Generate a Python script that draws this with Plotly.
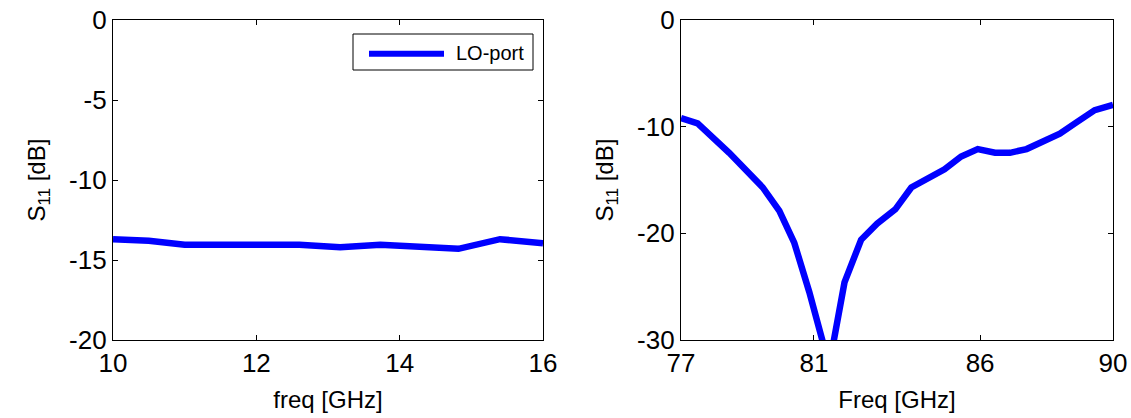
import plotly.graph_objects as go

# Left panel: LO-port S11
lo_freq = [10, 10.5, 11.0, 12.6, 13.17, 13.73, 14.82, 15.4, 16.0]
lo_s11 = [-13.7, -13.8, -14.05, -14.05, -14.2, -14.05, -14.3, -13.7, -13.95]

# Right panel: S11 around 77-90 GHz
rf_freq = [77, 77.5, 78.45, 79.46, 79.96, 80.41, 80.86, 81.46, 81.92, 82.42, 82.9,
           83.45, 83.93, 84.93, 85.43, 85.93, 86.45, 86.9, 87.4, 87.9, 88.4, 88.9, 89.45, 90]
rf_s11 = [-9.2, -9.7, -12.45, -15.7, -17.9, -20.9, -25.5, -32.4, -24.6, -20.6, -19.1,
          -17.75, -15.7, -14.0, -12.8, -12.1, -12.45, -12.45, -12.1, -11.45, -10.65, -9.6, -8.45, -7.95]

left_xticks = [10, 12, 14, 16]
left_yticks = [0, -5, -10, -15, -20]
right_xticks = [77, 81, 86, 90]
right_yticks = [0, -10, -20, -30]
legend_label = "LO-port"

W, H = 1131, 418
L, T = 113, 20
R = W - 1113
B = H - 340
PW, PH = W - L - R, H - T - B


def px(xp):
    return (xp - L) / PW


def py(yp):
    return (H - B - yp) / PH


def labels(vals):
    # plain hyphen-minus, as in the reference
    return [str(v) for v in vals]


blue = "#0000FF"
fam = "Liberation Sans, Arial, sans-serif"
tickfont = dict(family=fam, size=26, color="black")
titlefont = dict(family=fam, size=24, color="black")

fig = go.Figure()
fig.add_trace(go.Scatter(x=lo_freq, y=lo_s11, mode="lines", name=legend_label, showlegend=False,
                         line=dict(color=blue, width=6.5), xaxis="x", yaxis="y"))
fig.add_trace(go.Scatter(x=rf_freq, y=rf_s11, mode="lines", showlegend=False,
                         line=dict(color=blue, width=6.5), xaxis="x2", yaxis="y2"))

ax_common = dict(showline=True, linecolor="black", linewidth=1.2, mirror="ticks",
                 ticks="inside", ticklen=5, tickcolor="black", tickwidth=1, showgrid=False,
                 zeroline=False, tickfont=tickfont, automargin=False, ticklabeloverflow="allow")

fig.update_layout(
    width=W, height=H,
    margin=dict(l=L, r=R, t=T, b=B),
    paper_bgcolor="white", plot_bgcolor="white",
    showlegend=False,
    xaxis=dict(domain=[0, px(543)], range=[10, 16], tickvals=left_xticks, ticktext=labels(left_xticks),
               title=dict(text="freq [GHz]", font=titlefont, standoff=13), anchor="y", **ax_common),
    yaxis=dict(domain=[0, 1], range=[-20, 0], tickvals=left_yticks, ticktext=labels(left_yticks),
               title=dict(text="S<sub>11</sub> [dB]", font=titlefont, standoff=16), anchor="x", **ax_common),
    xaxis2=dict(domain=[px(681), 1], range=[77, 90], tickvals=right_xticks, ticktext=labels(right_xticks),
                title=dict(text="Freq [GHz]", font=titlefont, standoff=13), anchor="y2", **ax_common),
    yaxis2=dict(domain=[0, 1], range=[-30, 0], tickvals=right_yticks, ticktext=labels(right_yticks),
                title=dict(text="S<sub>11</sub> [dB]", font=titlefont, standoff=16), anchor="x2", **ax_common),
)

# Legend box drawn as decoration
fig.add_shape(type="rect", xref="paper", yref="paper", x0=px(353), x1=px(533), y0=py(70), y1=py(34),
              line=dict(color="black", width=1), fillcolor="white", layer="above")
fig.add_shape(type="line", xref="paper", yref="paper", x0=px(369), x1=px(444), y0=py(53.7), y1=py(53.7),
              line=dict(color=blue, width=6), layer="above")
fig.add_annotation(text=legend_label, xref="paper", yref="paper", x=px(454), y=py(53),
                   xanchor="left", yanchor="middle", showarrow=False,
                   font=dict(family=fam, size=20, color="black"))

# remove the default page margin so the figure fills the window exactly
fig.write_html("out.html", config={"displayModeBar": False},
               post_script="document.body.style.margin='0px';")
